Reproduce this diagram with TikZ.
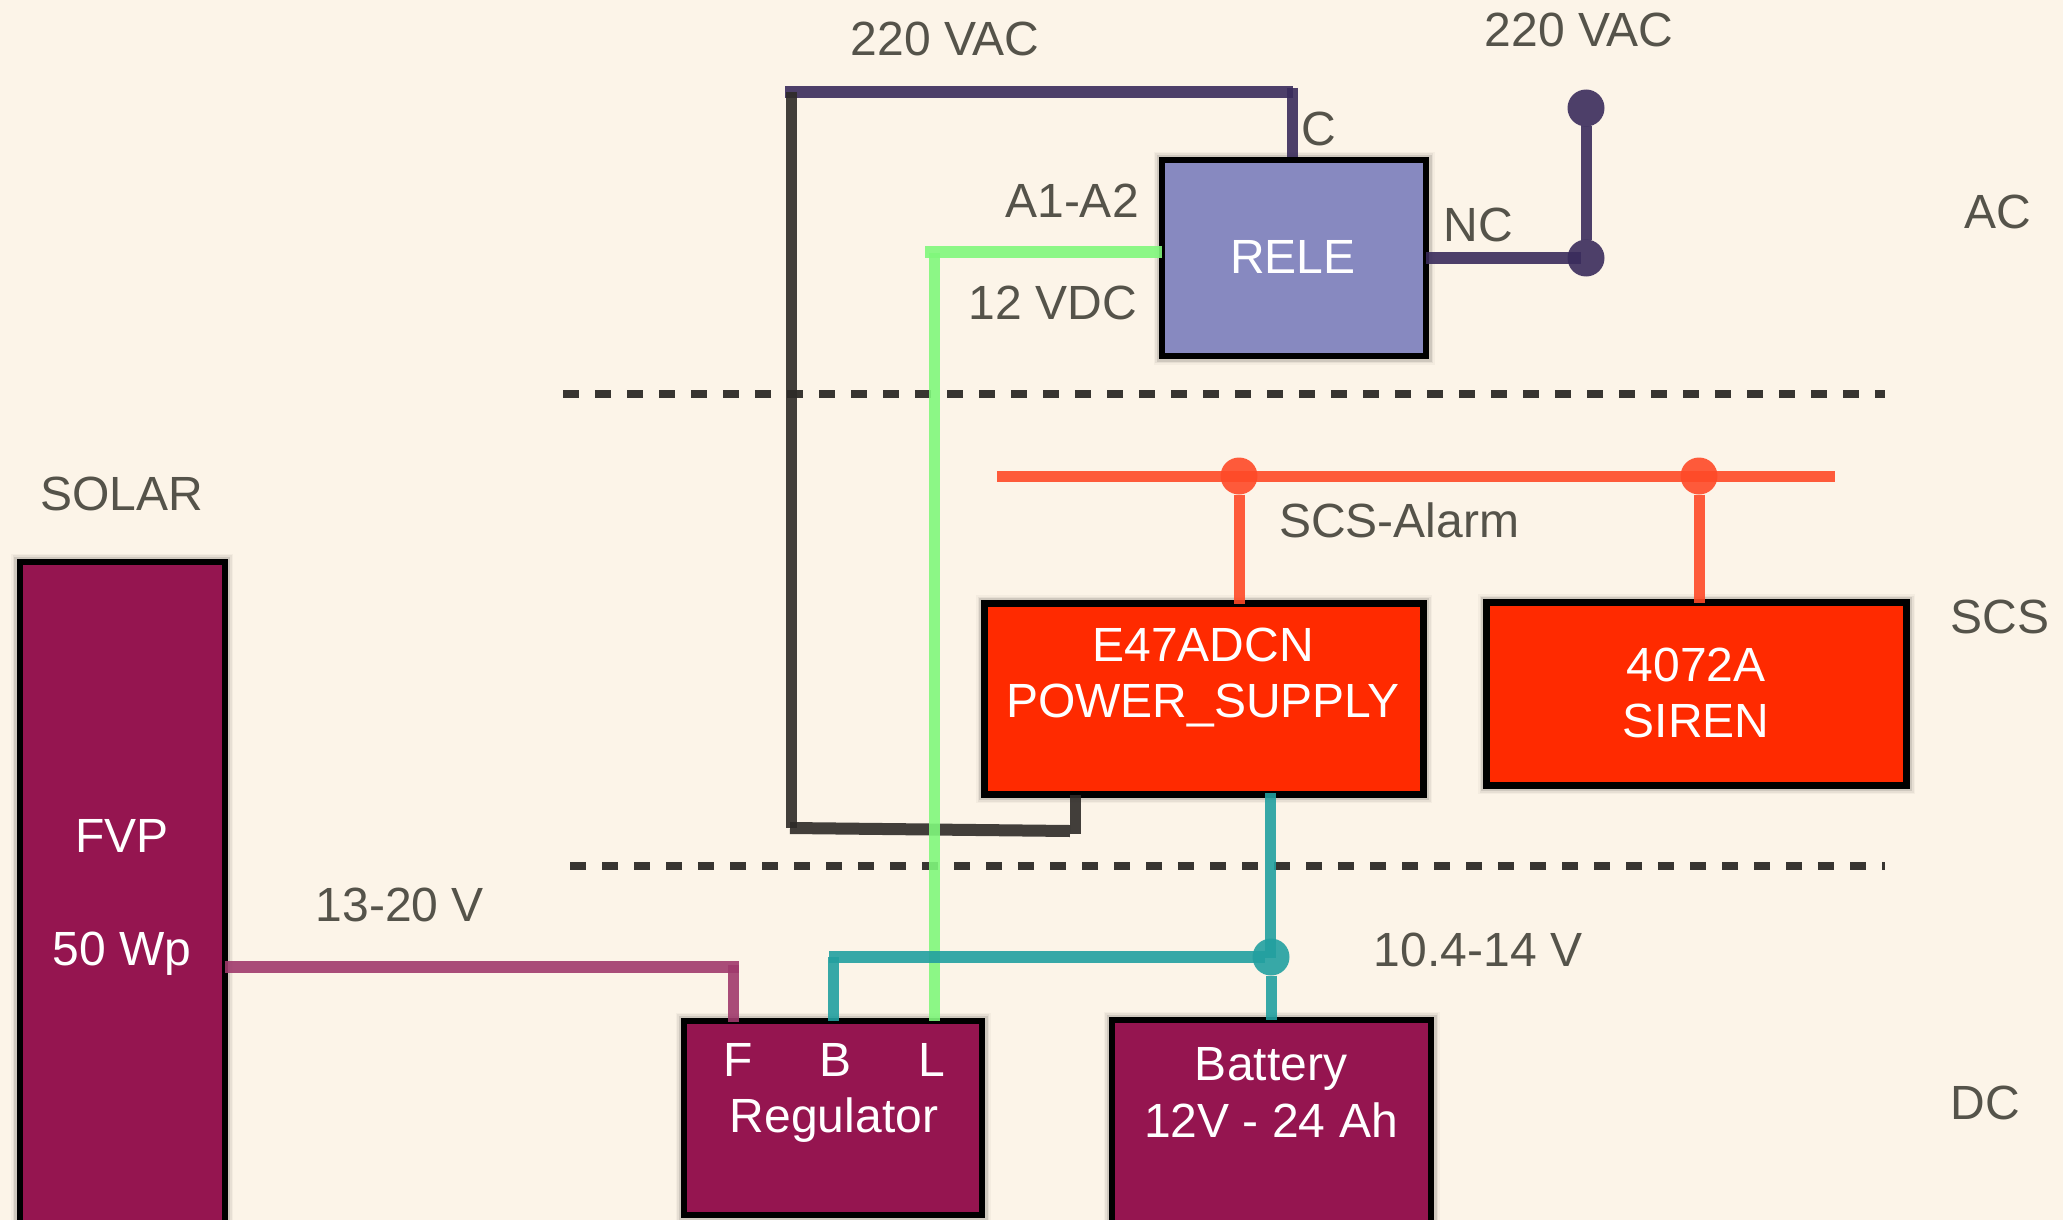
\documentclass[tikz,border=0pt]{standalone}
\usepackage{fontspec}
\setmainfont{Liberation Sans}
\definecolor{paper}{HTML}{FCF4E8}
\definecolor{maroon}{HTML}{951550}
\definecolor{redbox}{HTML}{FF2A00}
\definecolor{relebox}{HTML}{8789C0}
\definecolor{pline}{HTML}{3A2C5C}
\definecolor{kline}{HTML}{2E2B28}
\definecolor{gline}{HTML}{80F87C}
\definecolor{tline}{HTML}{22A0A0}
\definecolor{mline}{HTML}{A03A6C}
\definecolor{rline}{HTML}{FF4A28}
\definecolor{txt}{HTML}{55534A}
\tikzset{
  softshadow/.style={
    preaction={draw=black,opacity=.03,line width=17pt},
    preaction={draw=black,opacity=.05,line width=14pt},
    preaction={draw=black,opacity=.10,line width=11pt}},
  box/.style={draw=black,rectangle,inner sep=0pt,outer sep=0pt,softshadow},
  mbox/.style={box,fill=maroon,line width=6pt},
  rbox/.style={box,fill=redbox,line width=7.5pt},
  lbl/.style={text=txt,font=\fontsize{48}{56}\selectfont,inner sep=0pt},
  wlbl/.style={text=white,font=\fontsize{48}{56}\selectfont,inner sep=0pt},
  wire/.style={line width=11pt,opacity=.9},
  hwire/.style={line width=12pt},
  purplew/.style={wire,draw=pline},
  blackw/.style={wire,draw=kline},
  greenw/.style={wire,draw=gline},
  tealw/.style={wire,draw=tline},
  magw/.style={wire,draw=mline},
  redw/.style={wire,draw=rline},
  sep/.style={draw=kline,line width=8pt,opacity=.95,dash pattern=on 16pt off 16pt},
  jdot/.style={circle,inner sep=0pt,outer sep=0pt,minimum size=37pt,opacity=.9}
}
\begin{document}
\begin{tikzpicture}[x=1pt,y=-1pt]
\useasboundingbox (0,0) rectangle (2063,1220);
\clip (0,0) rectangle (2063,1220);
\fill[paper] (0,0) rectangle (2063,1220);

% boxes
\node[box,fill=relebox,line width=6pt,minimum width=264pt,minimum height=196pt] (rele) at (1294,258) {};
\node[rbox,minimum width=439pt,minimum height=191pt] (psu) at (1204,699) {};
\node[rbox,minimum width=420pt,minimum height=183pt] (siren) at (1696.5,694) {};
\node[mbox,minimum width=205pt,minimum height=800pt] (fvp) at (122,962) {};
\node[mbox,minimum width=298pt,minimum height=194pt] (reg) at (833,1118) {};
\node[mbox,minimum width=319pt,minimum height=300pt] (bat) at (1271.5,1170) {};

% separators
\coordinate (s1a) at (563,394); \coordinate (s1b) at (1885,394);
\coordinate (s2a) at (570,866); \coordinate (s2b) at (1885,866);
\draw[sep] (s1a) -- (s1b);
\draw[sep] (s2a) -- (s2b);

% junctions
\node[jdot,fill=pline] (ptop) at (1586,108) {};
\node[jdot,fill=pline] (pnc) at (1586,258) {};
\node[jdot,fill=rline] (r1) at (1239,476) {};
\node[jdot,fill=rline] (r2) at (1699,476) {};
\node[jdot,fill=tline] (tj) at (1271,957) {};

% named ends
\coordinate (tl) at (785,92);
\coordinate (tr) at (1293,92);
\coordinate (kt) at (791,92);
\coordinate (kb) at (791,828);
\coordinate (kbl) at (790,828);
\coordinate (kbr) at (1070,831);
\coordinate (kr) at (1075,834);
\coordinate (gc) at (925,252);
\coordinate (gt) at (934,253);
\coordinate (ra) at (997,476);
\coordinate (rb) at (1835,476);
\coordinate (tq) at (829,957);
\coordinate (tq2) at (1265,957);
\coordinate (tv) at (833.5,957);
\coordinate (mt) at (739,967);
\coordinate (mv) at (733.5,965);

% wires
\draw[purplew,hwire] (tl) -- (tr);
\draw[purplew] (1292,88) -- (1292,157);
\draw[purplew,hwire] (rele.east |- pnc) -- (1581,258);
\draw[purplew] (ptop) -- (pnc);
\draw[blackw] (kt) -- (kb);
\draw[blackw,hwire] (kbl) -- (kbr);
\draw[blackw] (kr) -- (kr |- psu.south);
\draw[greenw,hwire] (gc) -- (rele.west |- gc);
\draw[greenw] (gt) -- (gt |- reg.north);
\draw[redw] (ra) -- (rb);
\draw[redw] (r1) -- (r1 |- psu.north);
\draw[redw] (r2) -- (r2 |- siren.north);
\draw[tealw] (1270,793) -- (1270,958);
\draw[tealw] (tj) -- (tj |- bat.north);
\draw[tealw,hwire] (tq) -- (tq2);
\draw[tealw] (tv) -- (tv |- reg.north);
\draw[magw,hwire] (fvp.east |- mt) -- (mt);
\draw[magw] (mv) -- (733.5,1022);

% labels
\node[lbl] (l220a) at (945,39) {220 VAC};
\node[lbl] (l220b) at (1579,30) {220 VAC};
\node[lbl] (lc) at (1319,129) {C};
\node[lbl] (la1) at (1072,201) {A1-A2};
\node[lbl] (lnc) at (1478,225) {NC};
\node[lbl] (lvdc) at (1053,303) {12 VDC};
\node[wlbl] (lrele) at (1293,257) {RELE};
\node[lbl] (lac) at (1998,212) {AC};
\node[lbl] (lsolar) at (122,494) {SOLAR};
\node[lbl] (lalarm) at (1399,520) {SCS-Alarm};
\node[lbl] (lscs) at (2000,617) {SCS};
\node[wlbl] (le47) at (1203,645) {E47ADCN};
\node[wlbl] (lpow) at (1203,706) {POWER\_SUPPLY};
\node[wlbl] (l4072) at (1696,665) {4072A};
\node[wlbl] (lsiren) at (1696,721) {SIREN};
\node[wlbl] (lfvp) at (122,836) {FVP};
\node[wlbl] (lwp) at (122,954) {50 Wp};
\node[lbl] (l1320) at (400,905) {13-20 V};
\node[lbl] (l104) at (1478,950) {10.4-14 V};
\node[wlbl] (lf) at (738,1060) {F};
\node[wlbl] (lb) at (835,1060) {B};
\node[wlbl] (ll) at (932,1060) {L};
\node[wlbl] (lreg) at (834,1120) {Regulator};
\node[wlbl] (lbat) at (1271,1069) {Battery};
\node[wlbl] (l12v) at (1271,1120) {12V - 24 Ah};
\node[lbl] (ldc) at (1985,1103) {DC};
\end{tikzpicture}
\end{document}
